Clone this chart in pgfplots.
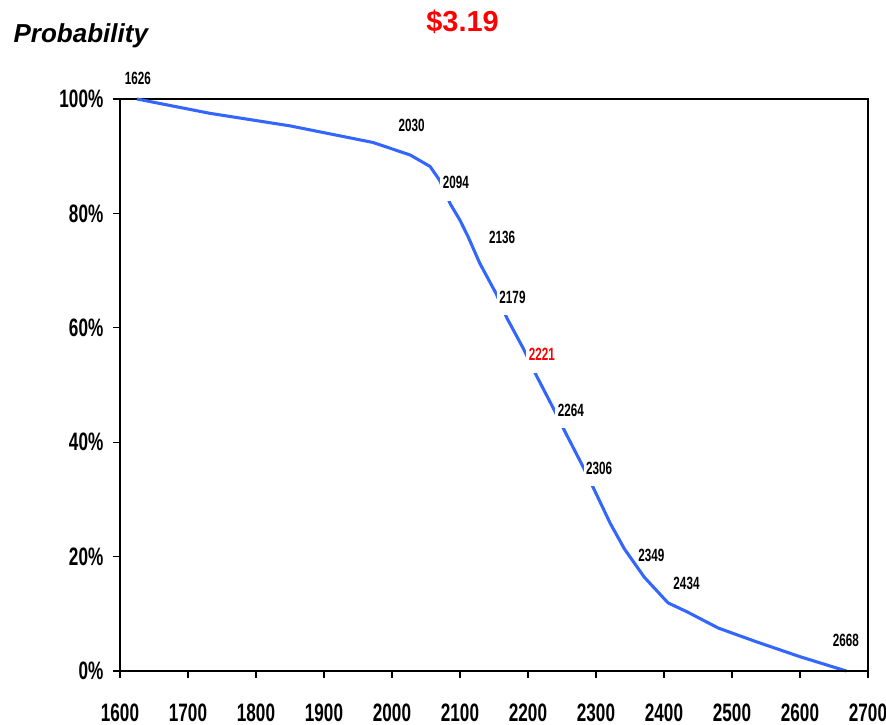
\documentclass[border=0pt]{standalone}
\usepackage{fontspec}
\setmainfont{Liberation Sans}
\usepackage{graphicx}
\usepackage{pgfplots}
\pgfplotsset{compat=1.18}

\definecolor{curveblue}{RGB}{51,102,255}
% condensed bold text, the chart uses a very narrow face
\newcommand\sx[1]{\scalebox{0.68}[1]{\bfseries #1}}
\newcommand\lab[1]{\scalebox{0.66}[1]{\bfseries #1}}

\begin{document}
\begin{tikzpicture}
\begin{axis}[
    scale only axis,
    width=561pt, height=429pt,
    xmin=1600, xmax=2700,
    ymin=0, ymax=100,
    xtick={1600,1700,...,2700},
    ytick={0,20,...,100},
    xticklabels={\sx{1600},\sx{1700},\sx{1800},\sx{1900},\sx{2000},\sx{2100},\sx{2200},\sx{2300},\sx{2400},\sx{2500},\sx{2600},\sx{2700}},
    yticklabels={\sx{0\%},\sx{20\%},\sx{40\%},\sx{60\%},\sx{80\%},\sx{100\%}},
    xtick pos=lower, ytick pos=left,
    tick align=outside,
    major tick length=5pt,
    tick style={black, line width=0.8pt},
    axis line style={black, line width=1.1pt},
    xticklabel style={font=\fontsize{18.9}{20}\selectfont, yshift=-16pt},
    yticklabel style={font=\fontsize{18.9}{20}\selectfont, xshift=-4pt},
    clip=false,
    point meta=explicit symbolic,
]

\addplot[curveblue, line width=2.3pt, line join=round] table {
x y
1625 100
1732 97.5
1850 95.3
1972 92.4
2027 90.2
2056 88.2
2070 85.8
2086 81.6
2100 78.8
2112 75.9
2129 71.3
2153 66.0
2169 61.7
2193 56.4
2213 51.5
2240 45.3
2255 41.7
2281 35.7
2297 31.8
2321 25.8
2342 21.3
2371 16.4
2406 11.9
2433 10.4
2480 7.5
2536 5.1
2600 2.5
2668 0
};

% labels sitting on the line, with a white box that cuts it
\addplot[draw=none, mark=none,
    nodes near coords={\lab{\pgfplotspointmeta}},
    every node near coord/.style={anchor=base, fill=white, inner xsep=2pt,
        inner ysep=1pt, text depth=8pt, font=\fontsize{13.3}{14}\selectfont, text=black}]
    table[meta=l] {
x y l
2093.8 84.3 2094
2177.2 64.3 2179
2262.9 44.5 2264
2304.7 34.4 2306
};
\addplot[draw=none, mark=none,
    nodes near coords={\lab{\pgfplotspointmeta}},
    every node near coord/.style={anchor=base, fill=white, inner xsep=2pt,
        inner ysep=1pt, text depth=8pt, font=\fontsize{13.3}{14}\selectfont, text=red}]
    table[meta=l] {
x y l
2220.3 54.2 2221
};
% labels away from the line
\addplot[draw=none, mark=none,
    nodes near coords={\lab{\pgfplotspointmeta}},
    every node near coord/.style={anchor=base, inner sep=0pt,
        font=\fontsize{13.3}{14}\selectfont, text=black}]
    table[meta=l] {
x y l
1626.2 102.6 1626
2029.0 94.4 2030
2161.8 74.65 2136
2381.6 19.1 2349
2433.1 14.3 2434
2667.4 4.3 2668
};

\draw[black, line width=1.5pt] (rel axis cs:0,0) -- (rel axis cs:1,0);
\draw[black, line width=1.5pt] (rel axis cs:0,0) -- (rel axis cs:0,1);
\end{axis}

\node[anchor=base, text=red, font=\fontsize{21.7}{24}\selectfont\bfseries]
    at ([shift={(256.9pt,479.5pt)}]current axis.south west) {\$3.19};
\node[anchor=base, font=\fontsize{19.5}{22}\selectfont\bfseries\itshape]
    at ([shift={(-29.4pt,471.2pt)}]current axis.south west) {Probability};

\pgfresetboundingbox
\path[use as bounding box] (current axis.south west) ++(-90pt,-40.5pt) rectangle ++(664.5pt,543.75pt);
\end{tikzpicture}
\end{document}
